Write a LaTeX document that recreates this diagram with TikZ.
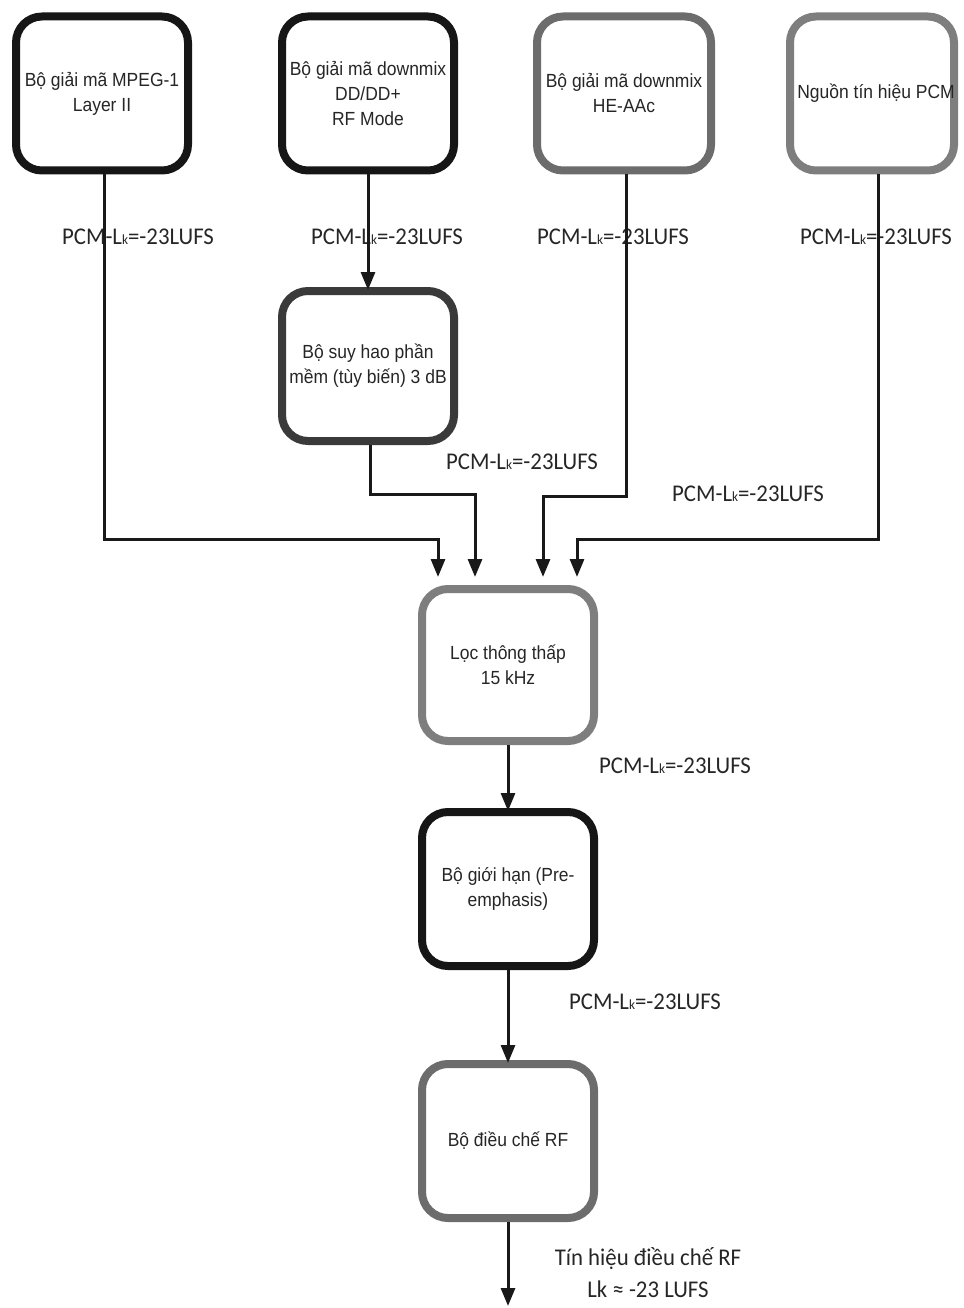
\documentclass[tikz,border=0pt]{standalone}
\usepackage{fontspec}
\setmainfont{Liberation Sans}
\newfontfamily\boxfont[FakeStretch=0.92]{Liberation Sans}
\newfontfamily\lblfont[FakeStretch=0.95]{Carlito}
\usetikzlibrary{arrows.meta}
\definecolor{cblack}{HTML}{161616}
\definecolor{cdark}{HTML}{3A3A3A}
\definecolor{cgray}{HTML}{6C6C6C}
\definecolor{clight}{HTML}{7E7E7E}
\newcommand{\pcmlbl}{PCM-L{\fontsize{14}{14}\selectfont k}=-23LUFS}
\tikzset{
  blk/.style={draw=#1, line width=8pt, rounded corners=26pt, fill=white,
    minimum width=172pt, minimum height=154pt, inner sep=0pt, align=center,
    font=\boxfont\fontsize{19}{25}\selectfont, text=black!85},
  lbl/.style={font=\lblfont\fontsize{24}{32}\selectfont, text=black!85, inner sep=0pt, align=center},
  conn/.style={line width=3pt, draw=black!90},
  arr/.style={conn, -{Triangle[width=14pt,length=18pt]}},
}
\begin{document}
\begin{tikzpicture}[x=1pt,y=-1pt]
\useasboundingbox (0,0) rectangle (963,1308);
% boxes
\node[blk=cblack] (m) at (102,93.5) {Bộ giải mã MPEG-1\\Layer II};
\node[blk=cblack] (d) at (368,93.5) {Bộ giải mã downmix\\DD/DD+\\RF Mode};
\node[blk=cgray, minimum width=174pt] (h) at (624,93.5) {Bộ giải mã downmix\\HE-AAc};
\node[blk=clight, minimum width=164pt] (p) at (872,93.5) {};
\node[font=\boxfont\fontsize{19}{25}\selectfont, text=black!85, inner sep=0pt] (pt) at (876,93) {Nguồn tín hiệu PCM};
\node[blk=cdark, minimum height=150pt] (s) at (368,366) {Bộ suy hao phần\\mềm (tùy biến) 3 dB};
\node[blk=clight, minimum height=152pt] (l) at (508,665) {Lọc thông thấp\\15 kHz};
\node[blk=cblack] (g) at (508,889) {Bộ giới hạn (Pre-\\emphasis)};
\node[blk=cgray] (r) at (508,1141) {Bộ điều chế RF};
% labels
\node[lbl] (t1) at (138,237) {\pcmlbl};
\node[lbl] (t2) at (387,237) {\pcmlbl};
\node[lbl] (t3) at (613,237) {\pcmlbl};
\node[lbl] (t4) at (876,237) {\pcmlbl};
\node[lbl] (t5) at (522,462) {\pcmlbl};
\node[lbl] (t6) at (748,494) {\pcmlbl};
\node[lbl] (t7) at (675,766) {\pcmlbl};
\node[lbl] (t8) at (645,1002) {\pcmlbl};
\node[lbl] (t9) at (648,1273) {Tín hiệu điều chế RF\\Lk ≈ -23 LUFS};
% coordinates
\coordinate (a1) at (438,577);
\coordinate (a2) at (475,577);
\coordinate (a3) at (543,577);
\coordinate (a4) at (577,577);
\coordinate (out) at (508,1306);
% connectors
\draw[arr] ([xshift=2pt]m.south) -- ++(0,365) -| (a1);
\draw[arr] (d.south) -- ([yshift=-3pt]s.north);
\draw[arr] ([xshift=2pt]s.south) -- ++(0,49) -| (a2);
\draw[arr] ([xshift=2pt]h.south) -- ++(0,322) -| (a3);
\draw[arr] ([xshift=6pt]p.south) -- ++(0,365) -| (a4);
\draw[arr] (l.south) -- ([yshift=-3pt]g.north);
\draw[arr] (g.south) -- ([yshift=-3pt]r.north);
\draw[arr] (r.south) -- (out);
\end{tikzpicture}
\end{document}
